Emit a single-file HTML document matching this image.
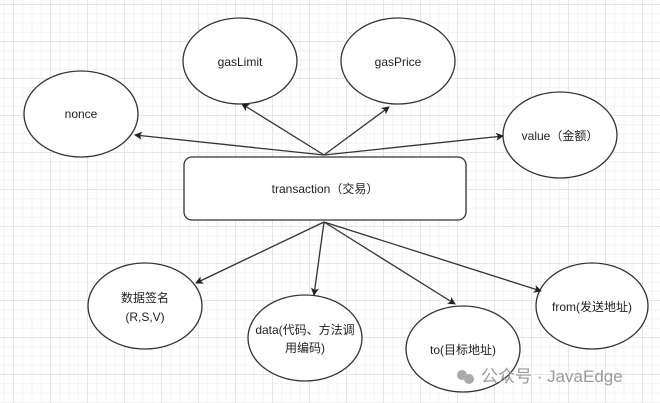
<!DOCTYPE html>
<html><head><meta charset="utf-8"><style>
html,body{margin:0;padding:0;}
body{width:660px;height:403px;overflow:hidden;background:#fff;
background-image:linear-gradient(#e6e6e6 1px,transparent 1px),linear-gradient(90deg,#e6e6e6 1px,transparent 1px),linear-gradient(#f3f3f3 1px,transparent 1px),linear-gradient(90deg,#f3f3f3 1px,transparent 1px);
background-size:37px 37px,37px 37px,9.25px 9.25px,9.25px 9.25px;background-position:13px 4px,13px 4px,13px 4px,13px 4px;}
svg{position:absolute;left:0;top:0;}
text{font-family:"Liberation Sans","Noto Sans CJK SC",sans-serif;font-size:12px;fill:#222;text-anchor:middle;}
</style></head><body>
<svg width="660" height="403" viewBox="0 0 660 403">
<defs><marker id="a" markerWidth="8" markerHeight="8" refX="7" refY="4" orient="auto" markerUnits="userSpaceOnUse"><path d="M0,0 L8,4 L0,8 L2,4 z" fill="#222"/></marker></defs>
<g fill="#fff" stroke="#333" stroke-width="1.3">
<ellipse cx="81" cy="114" rx="57" ry="43"/>
<ellipse cx="240" cy="61" rx="57" ry="43"/>
<ellipse cx="398" cy="61" rx="57" ry="43"/>
<ellipse cx="560" cy="135" rx="57" ry="43"/>
<rect x="184" y="157" width="282" height="63" rx="8"/>
<ellipse cx="145" cy="306" rx="57" ry="43"/>
<ellipse cx="305" cy="338" rx="57" ry="43"/>
<ellipse cx="463" cy="349" rx="57" ry="43"/>
<ellipse cx="592" cy="306" rx="56" ry="43"/>
</g>
<g stroke="#333" stroke-width="1.3" marker-end="url(#a)">
<line x1="324" y1="155" x2="135" y2="135"/>
<line x1="324" y1="155" x2="242" y2="104"/>
<line x1="324" y1="155" x2="389" y2="107"/>
<line x1="324" y1="155" x2="503" y2="136"/>
<line x1="324" y1="222" x2="196" y2="283"/>
<line x1="324" y1="222" x2="314" y2="295"/>
<line x1="324" y1="222" x2="455" y2="304"/>
<line x1="324" y1="222" x2="541" y2="291"/>
</g>
<text x="81" y="118">nonce</text>
<text x="240" y="66">gasLimit</text>
<text x="398" y="66">gasPrice</text>
<text x="560" y="140">value（金额）</text>
<text x="325" y="193">transaction（交易）</text>
<text x="145" y="302">数据签名</text>
<text x="145" y="321">(R,S,V)</text>
<text x="305" y="334">data(代码、方法调</text>
<text x="305" y="352">用编码)</text>
<text x="463" y="354">to(目标地址)</text>
<text x="592" y="311">from(发送地址)</text>
<g fill="#aaa"><circle cx="462" cy="375" r="5"/><circle cx="469" cy="379" r="5"/></g>
<text x="481" y="382" style="fill:#999;font-size:17px;text-anchor:start">公众号 · JavaEdge</text>
</svg>
</body></html>
